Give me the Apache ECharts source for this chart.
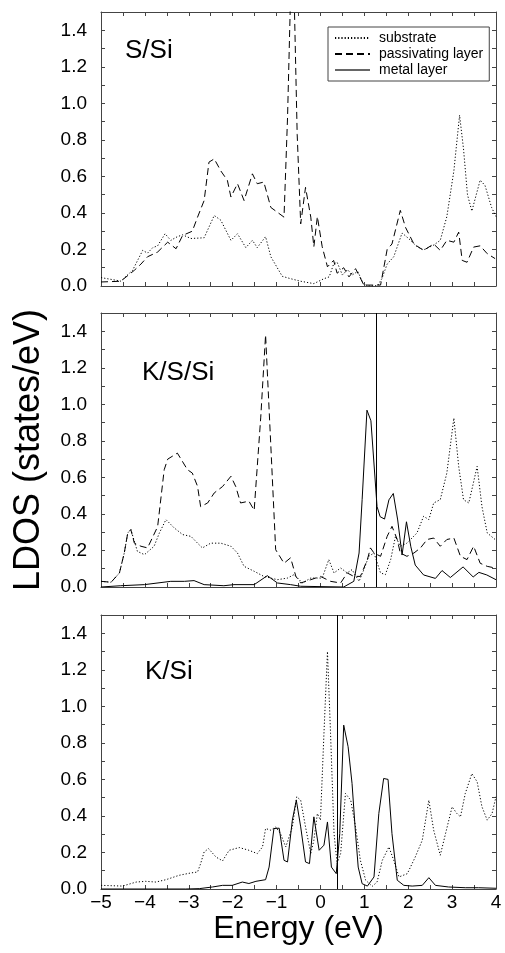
<!DOCTYPE html>
<html>
<head>
<meta charset="utf-8">
<script src="https://cdn.jsdelivr.net/npm/echarts@6/dist/echarts.min.js"></script>
<style>
  html, body { margin: 0; padding: 0; background: #fff; }
  #chart { width: 505px; height: 953px; }
</style>
</head>
<body>
<div id="chart"></div>
<script>
// panel titles and Fermi level markers (null = none)
const panelNames = ["S/Si", "K/S/Si", "K/Si"];
const fermiLevels = [null, 1.27, 0.375];

const xTickLabels = ["−5", "−4", "−3", "−2", "−1", "0", "1", "2", "3", "4"];
const yTickLabels = ["0.0", "0.2", "0.4", "0.6", "0.8", "1.0", "1.2", "1.4"];

// S/Si  [energy eV, LDOS]
const ssiSubstrate = [[-5,0.046],[-4.55,0.027],[-4.28,0.086],[-4.05,0.195],[-3.94,0.18],[-3.82,0.21],[-3.71,0.22],[-3.54,0.286],[-3.41,0.25],[-3.26,0.27],[-3.14,0.28],[-2.95,0.26],[-2.65,0.264],[-2.42,0.386],[-2.27,0.36],[-2.04,0.25],[-1.89,0.286],[-1.70,0.21],[-1.55,0.25],[-1.44,0.21],[-1.25,0.27],[-1.13,0.16],[-0.87,0.053],[-0.68,0.04],[-0.45,0.026],[-0.15,0.013],[0.08,0.04],[0.2,0.05],[0.3,0.12],[0.38,0.13],[0.5,0.06],[0.62,0.09],[0.72,0.06],[0.85,0.08],[0.98,0.01],[1.1,0.0],[1.3,0.002],[1.4,0.04],[1.52,0.12],[1.67,0.16],[1.86,0.29],[2.01,0.26],[2.2,0.215],[2.35,0.198],[2.58,0.224],[2.73,0.25],[2.88,0.38],[3.04,0.63],[3.17,0.935],[3.26,0.75],[3.35,0.5],[3.45,0.41],[3.55,0.5],[3.64,0.58],[3.75,0.55],[3.9,0.43],[4,0.38]];
const ssiPassivating = [[-5,0.022],[-4.55,0.026],[-4.24,0.086],[-4.09,0.12],[-3.94,0.16],[-3.71,0.186],[-3.48,0.24],[-3.29,0.204],[-3.14,0.277],[-2.92,0.30],[-2.80,0.377],[-2.65,0.468],[-2.54,0.678],[-2.42,0.696],[-2.27,0.63],[-2.12,0.578],[-2.04,0.487],[-1.89,0.56],[-1.74,0.468],[-1.55,0.614],[-1.44,0.56],[-1.29,0.569],[-1.13,0.43],[-0.83,0.377],[-0.75,0.92],[-0.68,1.6],[-0.6,1.6],[-0.53,0.83],[-0.45,0.34],[-0.34,0.54],[-0.22,0.377],[-0.15,0.215],[-0.07,0.38],[0.04,0.215],[0.16,0.105],[0.3,0.14],[0.38,0.07],[0.53,0.10],[0.65,0.05],[0.8,0.095],[0.99,0.005],[1.37,0.005],[1.52,0.2],[1.63,0.23],[1.82,0.414],[1.94,0.32],[2.13,0.23],[2.35,0.195],[2.58,0.23],[2.73,0.195],[2.88,0.25],[3.04,0.24],[3.15,0.295],[3.23,0.14],[3.34,0.13],[3.49,0.213],[3.64,0.22],[3.80,0.177],[3.98,0.15]];

// K/S/Si
const kssiSubstrate = [[-5,0.031],[-4.77,0.026],[-4.58,0.077],[-4.47,0.186],[-4.39,0.296],[-4.32,0.314],[-4.17,0.195],[-4.01,0.177],[-3.79,0.223],[-3.67,0.296],[-3.52,0.369],[-3.33,0.323],[-3.14,0.287],[-2.95,0.277],[-2.80,0.24],[-2.69,0.214],[-2.50,0.24],[-2.27,0.24],[-2.04,0.223],[-1.89,0.186],[-1.74,0.113],[-1.51,0.086],[-1.29,0.058],[-0.98,0.04],[-0.75,0.049],[-0.60,0.068],[-0.41,0.022],[-0.22,0.049],[0.04,0.049],[0.19,0.15],[0.31,0.077],[0.46,0.104],[0.61,0.077],[0.72,0.095],[0.88,0.031],[0.99,0.095],[1.10,0.168],[1.22,0.186],[1.37,0.077],[1.48,0.068],[1.60,0.15],[1.71,0.277],[1.82,0.223],[1.97,0.24],[2.20,0.296],[2.35,0.387],[2.47,0.369],[2.58,0.46],[2.73,0.478],[2.88,0.624],[3.04,0.925],[3.15,0.66],[3.26,0.478],[3.38,0.46],[3.45,0.533],[3.57,0.66],[3.68,0.44],[3.80,0.296],[3.98,0.26]];
const kssiPassivating = [[-5,0.031],[-4.77,0.026],[-4.58,0.077],[-4.47,0.186],[-4.39,0.296],[-4.32,0.314],[-4.24,0.24],[-4.09,0.223],[-3.94,0.214],[-3.71,0.33],[-3.56,0.642],[-3.48,0.70],[-3.26,0.733],[-3.03,0.642],[-2.92,0.624],[-2.80,0.551],[-2.73,0.44],[-2.57,0.46],[-2.42,0.515],[-2.23,0.55],[-2.04,0.606],[-1.93,0.55],[-1.82,0.46],[-1.63,0.47],[-1.51,0.42],[-1.36,0.93],[-1.25,1.38],[-1.13,0.77],[-1.02,0.204],[-0.83,0.13],[-0.68,0.16],[-0.56,0.058],[-0.45,0.022],[-0.22,0.04],[0.0,0.058],[0.23,0.031],[0.46,0.022],[0.61,0.077],[0.76,0.058],[0.91,0.058],[1.07,0.15],[1.14,0.214],[1.22,0.186],[1.37,0.168],[1.52,0.277],[1.63,0.332],[1.75,0.26],[1.82,0.186],[1.97,0.168],[2.13,0.186],[2.28,0.214],[2.43,0.26],[2.58,0.268],[2.73,0.223],[2.88,0.26],[3.04,0.268],[3.19,0.168],[3.34,0.15],[3.49,0.223],[3.64,0.13],[3.80,0.113],[3.98,0.104]];
const kssiMetal = [[-5,0.0],[-4.55,0.007],[-4.01,0.013],[-3.41,0.031],[-3.10,0.031],[-2.88,0.035],[-2.65,0.013],[-2.20,0.007],[-1.97,0.013],[-1.51,0.013],[-1.21,0.062],[-0.98,0.022],[-0.68,0.013],[-0.45,0.004],[0.53,0.0],[0.76,0.031],[0.88,0.186],[0.95,0.478],[1.06,0.968],[1.15,0.91],[1.29,0.44],[1.36,0.385],[1.46,0.372],[1.56,0.477],[1.66,0.512],[1.76,0.367],[1.86,0.175],[1.96,0.357],[2.06,0.22],[2.16,0.12],[2.35,0.066],[2.62,0.047],[2.77,0.09],[2.96,0.052],[3.25,0.11],[3.48,0.055],[3.61,0.08],[3.79,0.066],[4.0,0.04]];

// K/Si
const ksiSubstrate = [[-5,0.02],[-4.51,0.016],[-4.20,0.038],[-3.98,0.042],[-3.75,0.038],[-3.52,0.051],[-3.22,0.075],[-2.95,0.088],[-2.80,0.093],[-2.73,0.139],[-2.65,0.203],[-2.55,0.221],[-2.38,0.175],[-2.23,0.154],[-2.08,0.212],[-1.85,0.227],[-1.63,0.212],[-1.44,0.194],[-1.32,0.23],[-1.25,0.331],[-1.13,0.322],[-1.02,0.34],[-0.91,0.303],[-0.79,0.23],[-0.64,0.34],[-0.54,0.505],[-0.45,0.486],[-0.34,0.34],[-0.22,0.194],[-0.15,0.267],[-0.07,0.413],[0.0,0.377],[0.08,0.852],[0.16,1.30],[0.23,0.852],[0.31,0.303],[0.38,0.139],[0.46,0.194],[0.57,0.523],[0.69,0.486],[0.80,0.34],[0.91,0.157],[1.03,0.048],[1.18,0.015],[1.29,0.038],[1.41,0.157],[1.56,0.23],[1.67,0.157],[1.79,0.066],[1.98,0.084],[2.16,0.175],[2.32,0.267],[2.47,0.486],[2.58,0.322],[2.73,0.185],[2.85,0.303],[3.00,0.45],[3.11,0.413],[3.19,0.395],[3.30,0.523],[3.45,0.632],[3.57,0.587],[3.68,0.45],[3.80,0.377],[3.91,0.413],[4.0,0.505]];
const ksiMetal = [[-5,0],[-3.07,0],[-2.76,0.002],[-2.46,0.011],[-2.23,0.02],[-2.01,0.02],[-1.78,0.038],[-1.63,0.03],[-1.47,0.042],[-1.25,0.051],[-1.17,0.12],[-1.06,0.331],[-0.94,0.333],[-0.83,0.157],[-0.75,0.148],[-0.64,0.377],[-0.55,0.486],[-0.45,0.34],[-0.34,0.148],[-0.25,0.139],[-0.15,0.395],[-0.03,0.212],[0.08,0.24],[0.16,0.367],[0.25,0.12],[0.36,0.084],[0.44,0.303],[0.53,0.897],[0.63,0.779],[0.72,0.578],[0.80,0.303],[0.86,0.12],[0.95,0.029],[1.07,0.016],[1.22,0.066],[1.33,0.413],[1.44,0.605],[1.54,0.60],[1.63,0.303],[1.75,0.048],[1.90,0.02],[2.09,0.016],[2.32,0.02],[2.47,0.062],[2.62,0.02],[2.92,0.011],[3.30,0.007],[3.60,0.007],[4.0,0.004]];

const panels = [
  { substrate: ssiSubstrate, passivating: ssiPassivating, metal: null },
  { substrate: kssiSubstrate, passivating: kssiPassivating, metal: kssiMetal },
  { substrate: ksiSubstrate, passivating: null, metal: ksiMetal }
];

const FONT = "'Liberation Sans', Arial, Helvetica, sans-serif";
const frameColor = "#444";
const gridTops = [12, 313, 615];

const chart = echarts.init(document.getElementById("chart"), null, { renderer: "canvas" });

const grids = gridTops.map(t => ({ left: 101, width: 395, top: t, height: 274 }));

const xAxes = [];
const yAxes = [];
gridTops.forEach((t, g) => {
  const last = g === gridTops.length - 1;
  ["bottom", "top"].forEach(pos => {
    xAxes.push({
      type: "value", gridIndex: g, position: pos,
      min: -5, max: 4, interval: 0.5,
      axisLine: { show: true, onZero: false, lineStyle: { color: frameColor, width: 1 } },
      axisTick: { show: true, inside: true, length: 4, lineStyle: { color: frameColor } },
      splitLine: { show: false },
      axisLabel: {
        show: last && pos === "bottom", margin: 4,
        fontFamily: FONT, fontSize: 19, color: "#000",
        formatter: v => { const k = Math.round(v * 2); return k % 2 === 0 ? xTickLabels[k / 2 + 5] : ""; }
      },
      name: last && pos === "bottom" ? "Energy (eV)" : "",
      nameLocation: "middle", nameGap: 20,
      nameTextStyle: { fontFamily: FONT, fontSize: 32, color: "#000" }
    });
  });
  ["left", "right"].forEach(pos => {
    yAxes.push({
      type: "value", gridIndex: g, position: pos,
      min: 0, max: 1.5, interval: 0.1,
      axisLine: { show: true, onZero: false, lineStyle: { color: frameColor, width: 1 } },
      axisTick: { show: true, inside: true, length: 4, lineStyle: { color: frameColor } },
      splitLine: { show: false },
      axisLabel: {
        show: pos === "left", margin: 14,
        fontFamily: FONT, fontSize: 19, color: "#000",
        formatter: v => { const k = Math.round(v * 10); return k % 2 === 0 && k / 2 < yTickLabels.length ? yTickLabels[k / 2] : ""; }
      },
      name: g === 1 && pos === "left" ? "LDOS (states/eV)" : "",
      nameLocation: "middle", nameGap: 54,
      nameTextStyle: { fontFamily: FONT, fontSize: 36, color: "#000" }
    });
  });
});

const styles = {
  substrate: { name: "substrate", type: [1.2, 2] },
  passivating: { name: "passivating layer", type: [7, 4] },
  metal: { name: "metal layer", type: "solid" }
};

const series = [];
panels.forEach((p, g) => {
  ["substrate", "passivating", "metal"].forEach(key => {
    if (!p[key]) return;
    const s = {
      type: "line", name: styles[key].name,
      xAxisIndex: 2 * g, yAxisIndex: 2 * g,
      data: p[key], symbol: "none", showSymbol: false,
      lineStyle: { color: "#000", width: 1, type: styles[key].type },
      itemStyle: { color: "#000" },
      clip: true, silent: true, animation: false
    };
    series.push(s);
  });
  if (fermiLevels[g] !== null) {
    series[series.length - 1].markLine = {
      symbol: "none", silent: true, animation: false,
      label: { show: false },
      lineStyle: { color: "#000", width: 1, type: "solid" },
      data: [{ xAxis: fermiLevels[g] }]
    };
  }
});

const graphics = panelNames.map((n, g) => ({
  type: "text",
  left: [125, 142, 145][g],
  top: [38, 360, 659][g],
  style: { text: n, font: "26px " + FONT, fill: "#000" }
}));

chart.setOption({
  animation: false,
  backgroundColor: "#fff",
  grid: grids,
  xAxis: xAxes,
  yAxis: yAxes,
  legend: {
    orient: "vertical", left: 328, top: 27,
    data: [
      { name: "substrate" },
      { name: "passivating layer" },
      { name: "metal layer", lineStyle: { color: "#666" } }
    ],
    selectedMode: false,
    itemWidth: 35, itemHeight: 14, itemGap: 2,
    padding: [4, 6, 4, 6],
    borderColor: "#444", borderWidth: 1, backgroundColor: "#fff",
    itemStyle: { opacity: 0 },
    textStyle: { fontFamily: FONT, fontSize: 14, color: "#000", padding: [0, 0, 0, 4] }
  },
  graphic: graphics,
  series: series
});
</script>
</body>
</html>
